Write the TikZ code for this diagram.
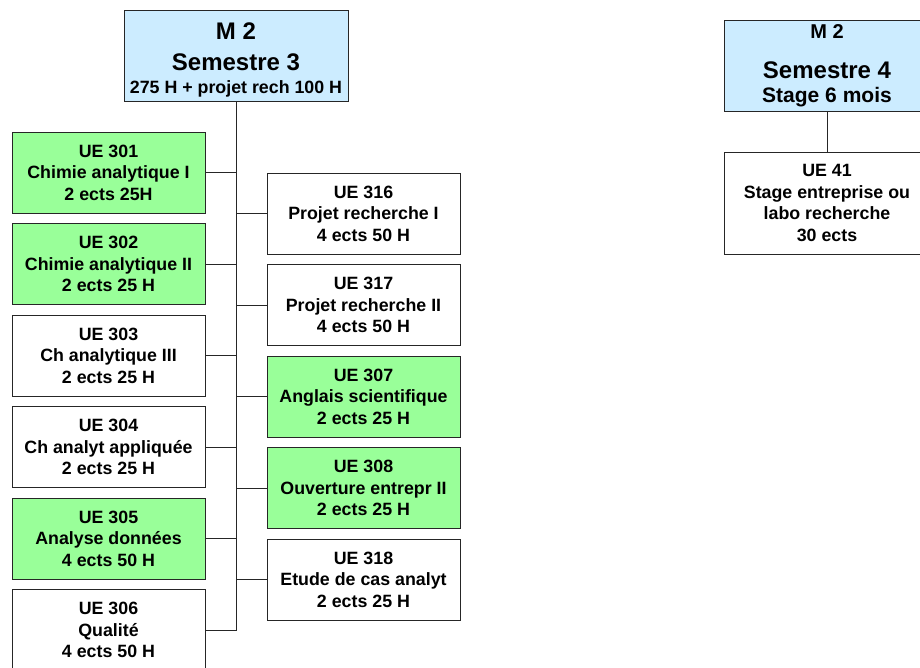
\documentclass[tikz,border=0pt]{standalone}
\usepackage{fontspec}
\setmainfont{Liberation Sans}
\definecolor{semblue}{RGB}{204,236,255}
\definecolor{uegreen}{RGB}{153,255,153}
\tikzset{
  box/.style={draw=black!85, line width=0.9pt, inner sep=0pt, align=center,
    font=\fontsize{17.8}{21.5}\selectfont\bfseries},
  ue/.style={box, minimum width=193pt, minimum height=81pt},
  sem/.style={box, fill=semblue, minimum height=91pt},
  link/.style={draw=black!85, line width=0.9pt}
}

\begin{document}
\begin{tikzpicture}[x=1pt, y=-1pt]
  \useasboundingbox (0,0) rectangle (920,667);
  \clip (0,0) rectangle (920,667);

  % semestre 3
  \node [sem, minimum width=224pt, font=\fontsize{24}{31}\selectfont\bfseries] (s3) at (236,55.5)
    {\rule{0pt}{25pt}M 2\\Semestre 3\\[-8pt]{\fontsize{17.8}{23}\selectfont 275 H + projet rech 100 H}};

  \foreach \n/\f/\t [count=\i from 0] in {
      ue301/uegreen/UE 301\\Chimie analytique I\\2 ects 25H,
      ue302/uegreen/UE 302\\Chimie analytique II\\2 ects 25 H,
      ue303/white/UE 303\\Ch analytique III\\2 ects 25 H,
      ue304/white/UE 304\\Ch analyt appliquée\\2 ects 25 H,
      ue305/uegreen/UE 305\\Analyse données\\4 ects 50 H,
      ue306/white/UE 306\\Qualité\\4 ects 50 H} {
    \node [ue, fill=\f] (\n) at (108.5, 172.5+91.5*\i) {\t};
  }
  \foreach \n/\f/\t [count=\i from 0] in {
      ue316/white/UE 316\\Projet recherche I\\4 ects 50 H,
      ue317/white/UE 317\\Projet recherche II\\4 ects 50 H,
      ue307/uegreen/UE 307\\Anglais scientifique\\2 ects 25 H,
      ue308/uegreen/UE 308\\Ouverture entrepr II\\2 ects 25 H,
      ue318/white/UE 318\\Etude de cas analyt\\2 ects 25 H} {
    \node [ue, fill=\f] (\n) at (363.5, 213.5+91.5*\i) {\t};
  }

  \path [link] (s3.south) -- (s3.south |- ue306.east) -- (ue306.east);
  \foreach \n in {ue301,ue302,ue303,ue304,ue305}
    \path [link] (\n.east) -- (\n.east -| s3.south);
  \foreach \n in {ue316,ue317,ue307,ue308,ue318}
    \path [link] (\n.west) -- (\n.west -| s3.south);

  % semestre 4
  \node [sem, minimum width=206pt, font=\fontsize{24}{24}\selectfont\bfseries] (s4) at (827,65.5)
    {{\fontsize{20}{24}\selectfont M 2}\\[16pt]Semestre 4\\{\fontsize{21}{24}\selectfont Stage 6 mois}};
  \node [box, fill=white, minimum width=206pt, minimum height=102pt] (ue41) at (827,203)
    {UE 41\\Stage entreprise ou\\labo recherche\\30 ects};
  \path [link] (s4.south) -- (ue41.north);

\end{tikzpicture}
\end{document}
